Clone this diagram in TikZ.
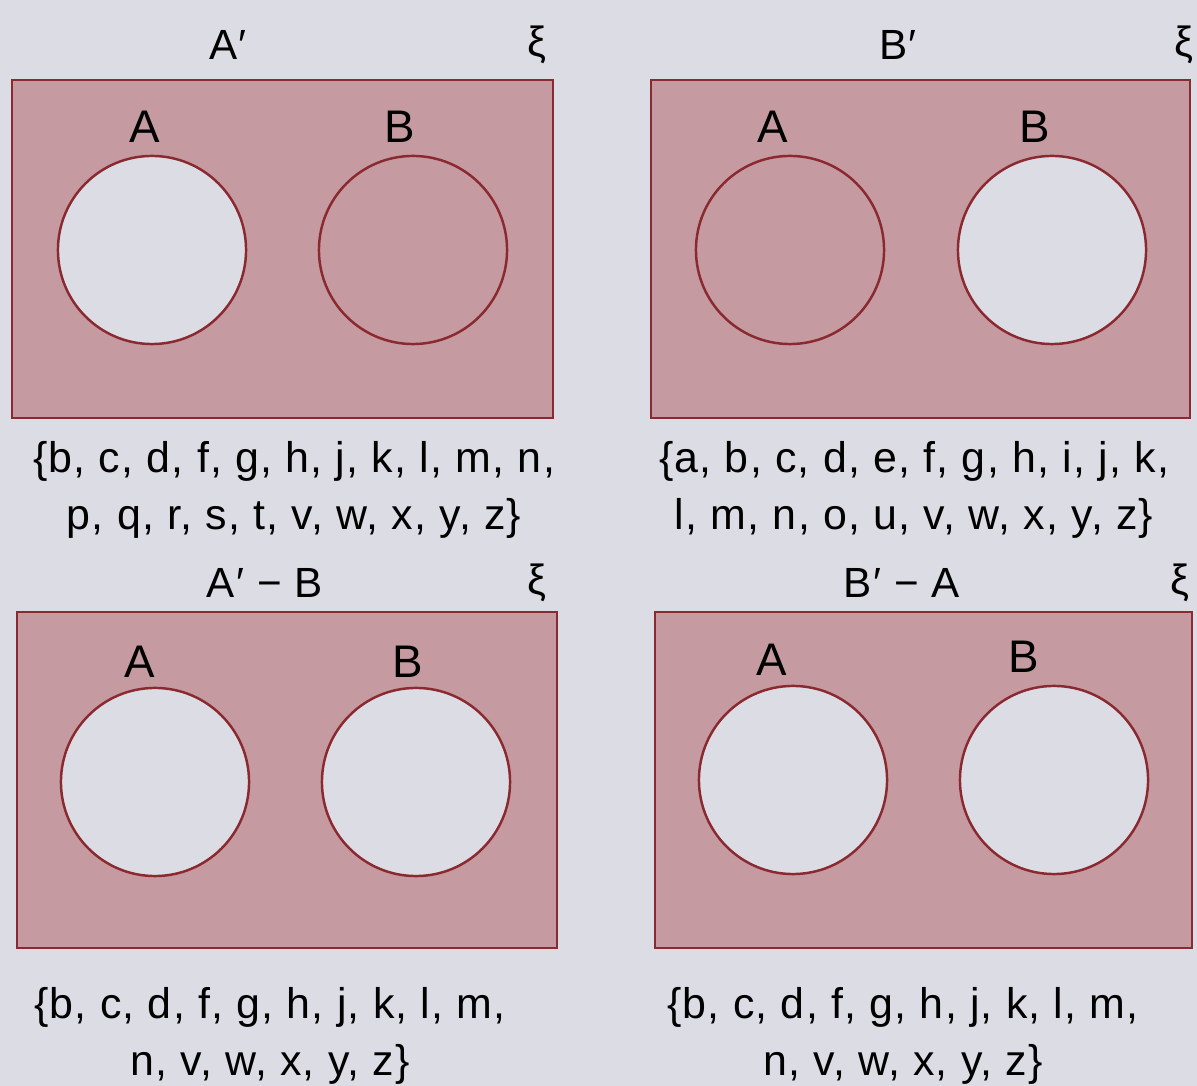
\documentclass[tikz,border=0pt]{standalone}
\usepackage{fontspec}
\setmainfont{Liberation Sans}
\newfontfamily\setfont[LetterSpace=3]{Liberation Sans}
\usetikzlibrary{positioning}
\definecolor{paper}{HTML}{DCDDE4}
\definecolor{shade}{HTML}{C59AA0}
\definecolor{rim}{HTML}{8A2A30}
\tikzset{
  universe/.style={draw=rim, fill=shade, line width=0.7pt},
  setcirc/.style={circle, draw=rim, line width=0.7pt, minimum size=1.88cm, inner sep=0pt},
  hole/.style={setcirc, fill=paper},
  filled/.style={setcirc, fill=shade},
  title/.style={font=\setfont\fontsize{12}{13}\selectfont},
  setlabel/.style={font=\fontsize{13}{14}\selectfont},
  members/.style={font=\setfont\fontsize{12.2}{16}\selectfont, align=center},
}

\begin{document}
\begin{tikzpicture}[x=0.01cm,y=-0.01cm]
  \fill[paper] (0,0) rectangle (1197,1086);
  \useasboundingbox (0,0) rectangle (1197,1086);

  % A'
  \node[title] (t1) at (228,45) {A′};
  \node[title] (x1) at (537,45) {ξ};
  \draw[universe] (12,80) rectangle (553,418);
  \node[hole] (a1) at (152,250) {};
  \node[filled] (b1) at (413,250) {};
  \node[setlabel] (la1) at (145,127) {A};
  \node[setlabel] (lb1) at (400,127) {B};
  \node[members] (m1) at (294,490) {\{b, c, d, f, g, h, j, k, l, m, n,\\ p, q, r, s, t, v, w, x, y, z\}};

  % B'
  \node[title] (t2) at (898,45) {B′};
  \node[title] (x2) at (1184,45) {ξ};
  \draw[universe] (651,80) rectangle (1190,418);
  \node[filled] (a2) at (790,250) {};
  \node[hole] (b2) at (1052,250) {};
  \node[setlabel] (la2) at (773,127) {A};
  \node[setlabel] (lb2) at (1035,127) {B};
  \node[members] (m2) at (914,490) {\{a, b, c, d, e, f, g, h, i, j, k,\\ l, m, n, o, u, v, w, x, y, z\}};

  % A' - B
  \node[title] (t3) at (265,583) {A′ − B};
  \node[title] (x3) at (537,583) {ξ};
  \draw[universe] (17,612) rectangle (557,948);
  \node[hole] (a3) at (155,782) {};
  \node[hole] (b3) at (416,782) {};
  \node[setlabel] (la3) at (140,662) {A};
  \node[setlabel] (lb3) at (408,662) {B};
  \node[members] (m3) at (270,1036) {\{b, c, d, f, g, h, j, k, l, m,\\ n, v, w, x, y, z\}};

  % B' - A
  \node[title] (t4) at (902,583) {B′ − A};
  \node[title] (x4) at (1180,583) {ξ};
  \draw[universe] (655,612) rectangle (1192,948);
  \node[hole] (a4) at (793,780) {};
  \node[hole] (b4) at (1054,780) {};
  \node[setlabel] (la4) at (772,660) {A};
  \node[setlabel] (lb4) at (1024,657) {B};
  \node[members] (m4) at (903,1036) {\{b, c, d, f, g, h, j, k, l, m,\\ n, v, w, x, y, z\}};
\end{tikzpicture}
\end{document}
